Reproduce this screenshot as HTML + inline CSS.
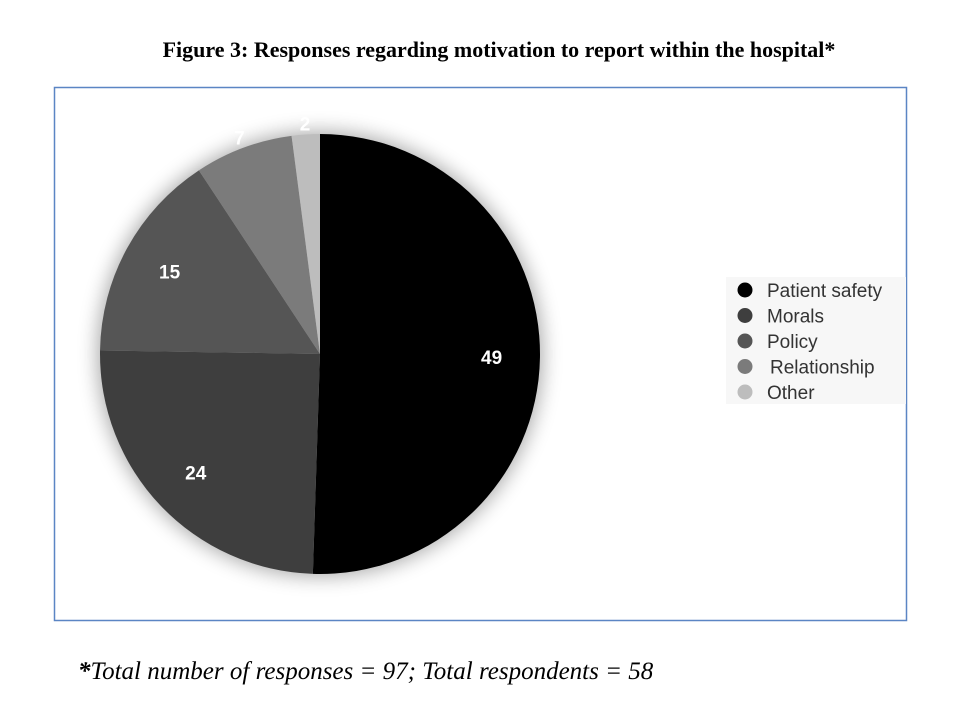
<!DOCTYPE html>
<html><head><meta charset="utf-8"><style>
body{margin:0;background:#fff;width:970px;height:723px;overflow:hidden;font-family:"Liberation Sans",sans-serif}
</style></head><body>
<svg width="970" height="723">
<defs><filter id="sh" x="-30%" y="-30%" width="160%" height="160%"><feGaussianBlur stdDeviation="10"/></filter></defs>
<text x="499" y="57" text-anchor="middle" font-family="Liberation Serif" font-weight="bold" font-size="22">Figure 3: Responses regarding motivation to report within the hospital*</text>
<rect x="54.5" y="87.5" width="852" height="533" fill="none" stroke="#5b85c4" stroke-width="1.5"/>
<circle cx="320" cy="354" r="222" fill="#000" opacity="0.35" filter="url(#sh)"/>
<g id="pie"></g>
<rect x="726" y="277" width="180" height="127" fill="#f7f7f7"/>
<g id="legend"></g>
<text x="78" y="679" font-family="Liberation Serif" font-style="italic" font-size="25"><tspan font-weight="bold">*</tspan>Total number of responses = 97; Total respondents = 58</text>
</svg>
<script>
const categories=["Patient safety","Morals","Policy","Relationship","Other"];
const values=[49,24,15,7,2];
const colors=["#000000","#3e3e3e","#555555","#7b7b7b","#bdbdbd"];
const NS="http://www.w3.org/2000/svg";
const cx=320,cy=354,r=220;
const total=values.reduce((a,b)=>a+b,0);
const pie=document.getElementById('pie');
let a0=0;
values.forEach((v,i)=>{
  const a1=a0+v/total*2*Math.PI;
  const p=(a)=>[cx+r*Math.sin(a),cy-r*Math.cos(a)];
  const [x0,y0]=p(a0),[x1,y1]=p(a1);
  const path=document.createElementNS(NS,'path');
  path.setAttribute('d',`M${cx},${cy}L${x0},${y0}A${r},${r} 0 ${a1-a0>Math.PI?1:0} 1 ${x1},${y1}Z`);
  path.setAttribute('fill',colors[i]);
  
  
  pie.appendChild(path);
  const am=(a0+a1)/2;
  const lr=v/total<0.1?r*1.05:r*0.78;
  const t=document.createElementNS(NS,'text');
  t.setAttribute('x',cx+lr*Math.sin(am));
  t.setAttribute('y',cy-lr*Math.cos(am)+7);
  t.setAttribute('text-anchor','middle');
  t.setAttribute('fill','#fff');
  t.setAttribute('font-weight','bold');
  t.setAttribute('font-size','19');
  
  
  t.textContent=v;
  pie.appendChild(t);
  a0=a1;
});
const lg=document.getElementById('legend');
categories.forEach((c,i)=>{
  const y=290+i*25.5;
  const g=document.createElementNS(NS,'g');
  
  
  const ci=document.createElementNS(NS,'circle');
  ci.setAttribute('cx',745);ci.setAttribute('cy',y);ci.setAttribute('r',7.5);ci.setAttribute('fill',colors[i]);
  const t=document.createElementNS(NS,'text');
  t.setAttribute('x',c==="Relationship"?770:767);t.setAttribute('y',y+7);t.setAttribute('font-size','19');t.setAttribute('fill','#333');
  t.textContent=c;
  g.appendChild(ci);g.appendChild(t);lg.appendChild(g);
});
</script>
</body></html>
